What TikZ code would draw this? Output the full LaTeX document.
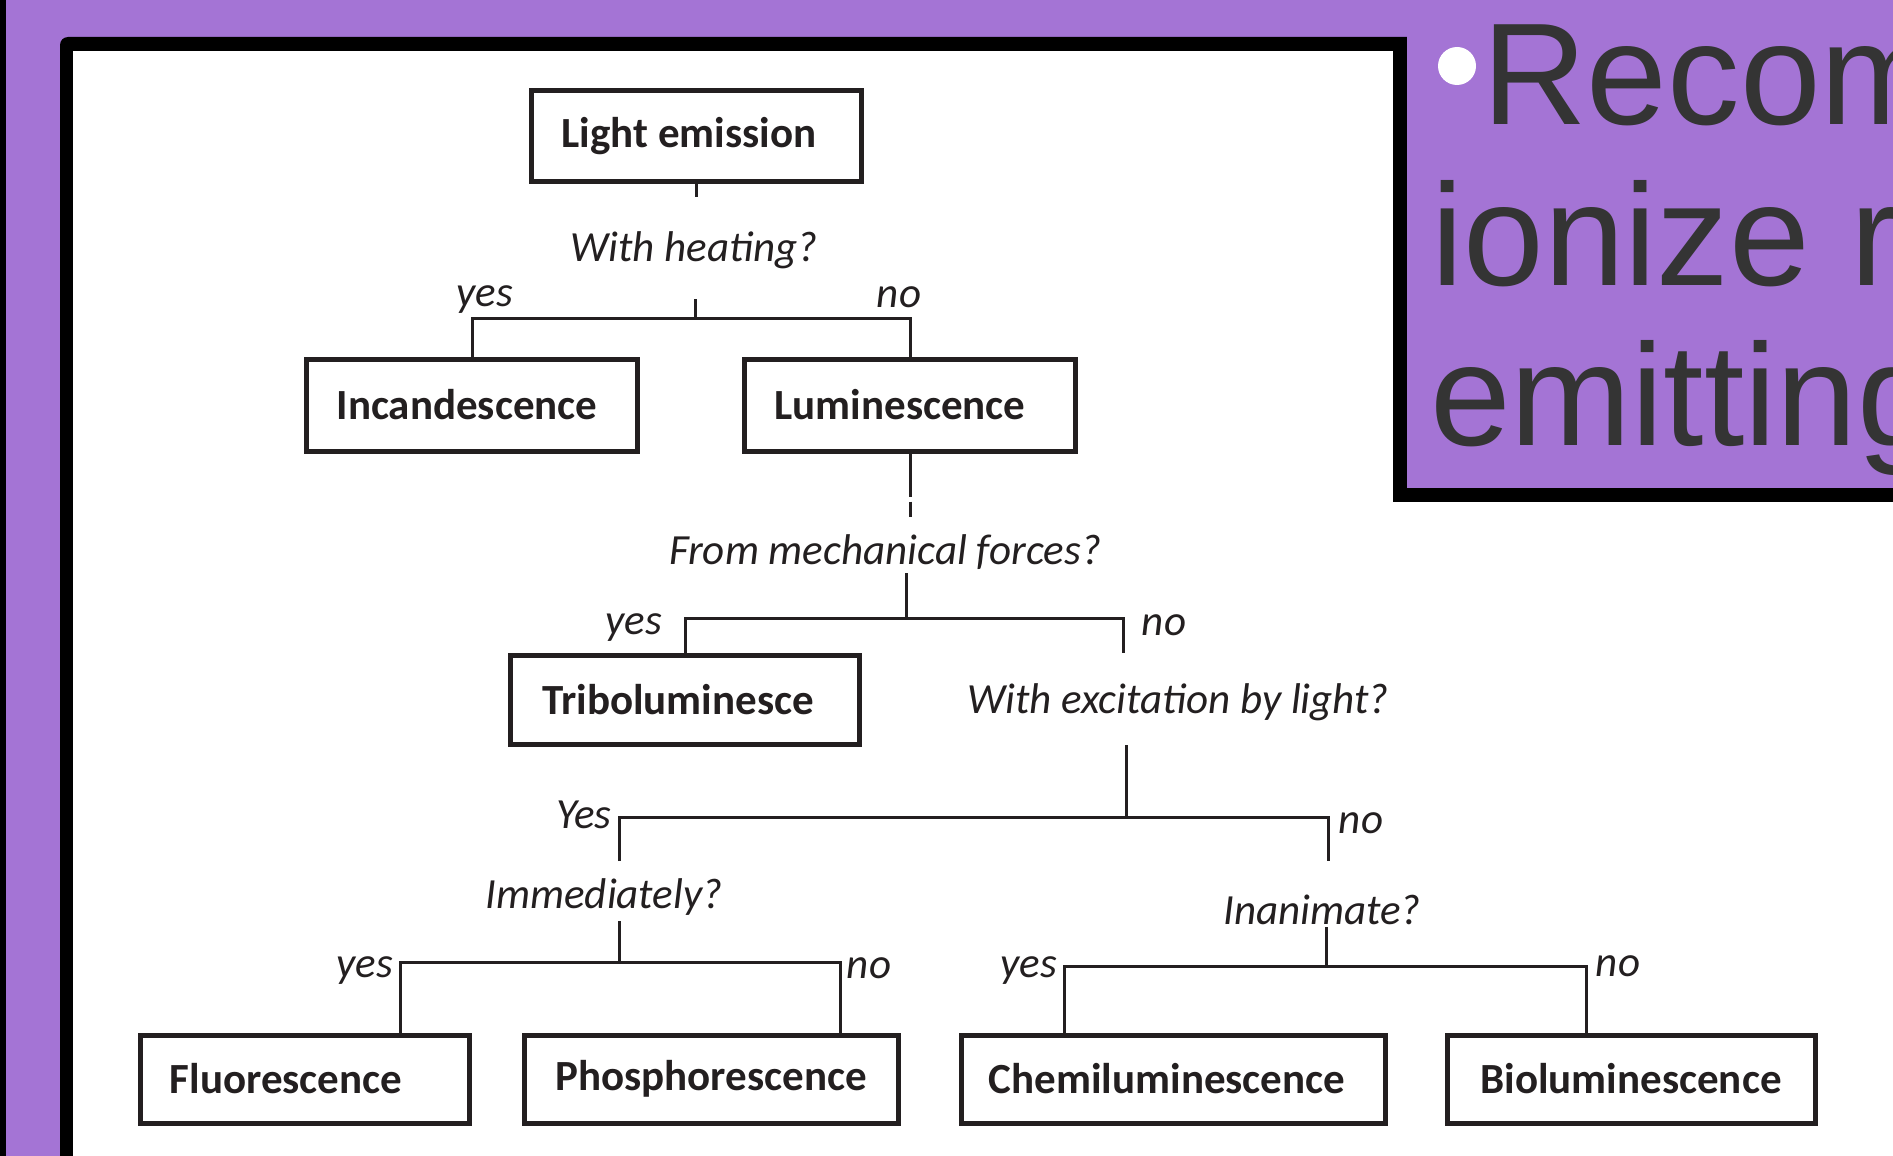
\documentclass[tikz,border=0pt]{standalone}
\usepackage{fontspec}
\newfontfamily\carlito{Carlito}
\newfontfamily\slidefont{Liberation Sans}
\definecolor{bgpurple}{RGB}{164,116,213}
\definecolor{ink}{RGB}{35,31,32}
\definecolor{slidetext}{RGB}{52,52,52}
\newcommand\leftby[2]{\hspace*{-#1pt}#2\hspace*{#1pt}}
\begin{document}
\begin{tikzpicture}[x=1pt,y=-1pt,
  box/.style={draw=ink, line width=5pt, fill=white, text=ink, inner sep=0pt,
    font=\carlito\bfseries\fontsize{43}{43}\selectfont},
  q/.style={text=ink, inner sep=0pt, font=\carlito\itshape\fontsize{43}{43}\selectfont},
  conn/.style={draw=ink, line width=3pt},
  slide/.style={anchor=base west, inner sep=0pt, text=slidetext,
    font=\slidefont\fontsize{145}{145}\selectfont}
]
\useasboundingbox (0,0) rectangle (1893,1156);
\clip (0,0) rectangle (1893,1156);
% background and frames
\fill[bgpurple] (0,0) rectangle (1893,1156);
\fill[black] (0,0) rectangle (6,1156);
\fill[black, rounded corners=8pt] (60,37) rectangle (1950,1250);
\fill[white] (73,51) rectangle (1950,1250);
\fill[black] (1393,37) rectangle (1900,502);
\fill[bgpurple] (1407,-10) rectangle (1900,488);

% slide text
\fill[white] (1457,66) circle (19pt);
\node[slide] (t1) at (1482,124) {Recom};
\node[slide] (t2) at (1431,285) {ionize r};
\node[slide] (t3) at (1430,445) {emitting};

% boxes
\node[box, minimum width=330pt, minimum height=91pt] (le) at (696,136) {\leftby{7}{Light emission}};
\node[box, minimum width=331pt, minimum height=92pt] (inc) at (472,405) {\leftby{5}{Incandescence}};
\node[box, minimum width=331pt, minimum height=92pt] (lum) at (910,405) {\leftby{10}{Luminescence}};
\node[box, minimum width=349pt, minimum height=89pt] (tri) at (685,700) {\leftby{7}{Triboluminesce}};
\node[box, minimum width=329pt, minimum height=88pt] (flu) at (305,1079) {\leftby{19}{Fluorescence}};
\node[box, minimum width=374pt, minimum height=88pt] (pho) at (711,1079) {Phosphorescence};
\node[box, minimum width=424pt, minimum height=88pt] (che) at (1173,1079) {\leftby{6}{Chemiluminescence}};
\node[box, minimum width=368pt, minimum height=88pt] (bio) at (1631,1079) {Bioluminescence};

% questions
\node[q] (q1) at (694,250) {With heating?};
\node[q] (q2) at (885,552) {From mechanical forces?};
\node[q] (q3) at (1178,702) {With excitation by light?};
\node[q] (q4) at (604,897) {Immediately?};
\node[q] (q5) at (1322,910) {Inanimate?};

% yes / no labels
\node[q] (y1) at (485,300) {yes};
\node[q] (n1) at (899,297) {no};
\node[q] (y2) at (634,628) {yes};
\node[q] (n2) at (1164,625) {no};
\node[q] (y3) at (584,815) {Yes};
\node[q] (n3) at (1361,823) {no};
\node[q] (y4) at (365,971) {yes};
\node[q] (n4) at (869,968) {no};
\node[q] (y5) at (1029,971) {yes};
\node[q] (n5) at (1618,966) {no};

% connectors
\coordinate (j1) at (695,318);
\draw[conn] (le.south) -- ++(0,13);
\draw[conn] (j1) -- ++(0,-19);
\draw[conn] (inc.north) |- (j1) -| (lum.north);

\coordinate (j2) at (906,618);
\coordinate (e2) at (1123,653);
\draw[conn] (lum.south) -- ++(0,43);
\draw[conn] ([yshift=-48pt]lum.south) -- ++(0,15);
\draw[conn] (j2) -- ++(0,-45);
\draw[conn] (tri.north) |- (j2) -| (e2);

\coordinate (j3) at (1126,817);
\coordinate (e3a) at (619,861);
\coordinate (e3b) at (1328,861);
\draw[conn] (j3) -- ++(0,-72);
\draw[conn] (e3a) |- (j3) -| (e3b);

\coordinate (j4) at (619,962);
\draw[conn] (j4) -- ++(0,-41);
\draw[conn] ([xshift=95pt]flu.north) |- (j4) -| ([xshift=129pt]pho.north);

\coordinate (j5) at (1326,966);
\draw[conn] (j5) -- ++(0,-39);
\draw[conn] ([xshift=-109pt]che.north) |- (j5) -| ([xshift=-45pt]bio.north);
\end{tikzpicture}
\end{document}
